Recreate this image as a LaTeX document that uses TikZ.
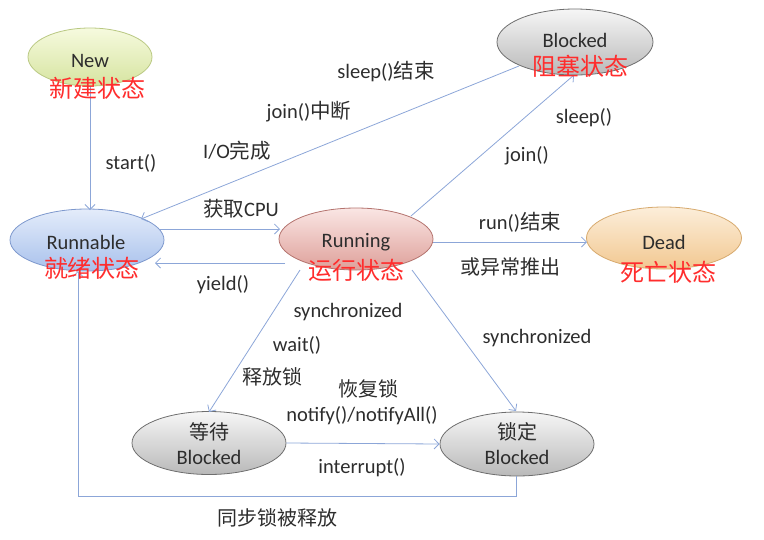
\documentclass[tikz,border=0pt]{standalone}
\usepackage{fontspec}
\setmainfont{Carlito}
\newfontfamily\cjk{Noto Sans CJK SC}
\usetikzlibrary{shapes.geometric,arrows.meta,calc}
\definecolor{lineblue}{RGB}{140,166,216}
\definecolor{txt}{RGB}{45,45,45}
\definecolor{redtxt}{RGB}{255,45,45}
\tikzset{
  st/.style={ellipse, inner sep=0pt, line width=0.8pt},
  stnew/.style={st, draw={rgb,255:red,185;green,200;blue,130}, top color={rgb,255:red,246;green,250;blue,222}, bottom color={rgb,255:red,214;green,228;blue,160}},
  stgrey/.style={st, draw={rgb,255:red,110;green,110;blue,110}, top color={rgb,255:red,246;green,246;blue,246}, bottom color={rgb,255:red,185;green,185;blue,185}},
  stblue/.style={st, draw={rgb,255:red,125;green,152;blue,205}, top color={rgb,255:red,228;green,236;blue,250}, bottom color={rgb,255:red,168;green,193;blue,236}},
  stred/.style={st, draw={rgb,255:red,180;green,115;blue,110}, top color={rgb,255:red,250;green,230;blue,228}, bottom color={rgb,255:red,222;green,160;blue,154}},
  storange/.style={st, draw={rgb,255:red,215;green,170;blue,110}, top color={rgb,255:red,252;green,238;blue,218}, bottom color={rgb,255:red,242;green,200;blue,145}},
  nm/.style={text=txt, font=\fontsize{20.5}{24}\selectfont, inner sep=0pt},
  nmc/.style={text=txt, font=\fontsize{20}{24}\selectfont\cjk, inner sep=0pt},
  rd/.style={text=redtxt, font=\fontsize{24}{27}\selectfont\cjk, inner sep=0pt},
  lb/.style={text=txt, font=\fontsize{20.5}{24}\selectfont, inner sep=0pt},
  lbc/.style={text=txt, font=\fontsize{20}{24}\selectfont\cjk, inner sep=0pt},
  conn/.style={draw=lineblue, line width=0.8pt, -{Straight Barb[length=5pt,width=10pt,line width=0.8pt]}},
}
\begin{document}
\begin{tikzpicture}[x=1pt,y=-1pt]
\useasboundingbox (0,0) rectangle (764,539);
% states
\node[stnew, minimum width=124pt, minimum height=58pt] (new) at (90,57) {};
\node[stgrey, minimum width=156pt, minimum height=66pt] (blk) at (575,42) {};
\node[stblue, minimum width=154pt, minimum height=62pt] (rb) at (87,240) {};
\node[stred, minimum width=154pt, minimum height=62pt] (rn) at (356,239) {};
\node[storange, minimum width=155pt, minimum height=62pt] (dd) at (664,238) {};
\node[stgrey, minimum width=154pt, minimum height=63pt] (wt) at (209,443) {};
\node[stgrey, minimum width=154pt, minimum height=64pt] (lk) at (517,444) {};
% connectors
\draw[conn] (new.south) -- (new.south |- {$(rb.center)+(0,-30)$});
\draw[conn] ($(blk.center)+(-56,24)$) -- ($(rb.center)+(54,-21)$);
\draw[conn] ($(rn.center)+(55,-23)$) -- ($(blk.center)+(-1,33)$);
\draw[conn] ($(rb.center)+(73,-11)$) -- ($(rn.center)+(-76,-10)$);
\draw[conn] ($(rn.center)+(-71,24)$) -- ($(rb.center)+(68,23)$);
\draw[conn] ($(rn.center)+(77,3)$) -- ($(dd.center)+(-77,4)$);
\draw[conn] ($(rn.center)+(-56,31)$) -- ($(wt.center)+(0,-31)$);
\draw[conn] ($(rn.center)+(56,31)$) -- ($(lk.center)+(-1,-33)$);
\draw[conn] (wt.east) -- (lk.west);
\coordinate (c1) at ($(lk.center)+(-1,52)$);
\coordinate (c2) at ($(rb.center)+(-9,256)$);
\draw[conn] ($(lk.center)+(-1,32)$) -- (c1) -- (c2) -- ($(rb.center)+(-9,31)$);
% state texts
\node[nm] (tnew) at (90,61) {New};
\node[rd] (rnew) at (97,88) {新建状态};
\node[nm] (tblk) at (575,40) {Blocked};
\node[rd] (rblk) at (580,66) {阻塞状态};
\node[nm] (trb) at (86,242) {Runnable};
\node[rd] (rrb) at (92,268) {就绪状态};
\node[nm] (trn) at (356,242) {Running};
\node[rd] (rrn) at (356,270) {运行状态};
\node[nm] (tdd) at (664,242) {Dead};
\node[rd] (rdd) at (668,272) {死亡状态};
\node[nmc] (twt1) at (209,432) {等待};
\node[nm] (twt2) at (209,457) {Blocked};
\node[nmc] (tlk1) at (517,432) {锁定};
\node[nm] (tlk2) at (517,457) {Blocked};
% labels
\node[lb] (l1) at (131,163) {start()};
\node[lb] (l2) at (386,72) {sleep(){\cjk 结束}};
\node[lb] (l3) at (309,112) {join(){\cjk 中断}};
\node[lb] (l4) at (237,151) {I/O{\cjk 完成}};
\node[lb] (l5) at (241,209) {{\cjk 获取}CPU};
\node[lb] (l6) at (223,285) {yield()};
\node[lb] (l7) at (584,118) {sleep()};
\node[lb] (l8) at (527,156) {join()};
\node[lb] (l9) at (520,222) {run(){\cjk 结束}};
\node[lbc] (l10) at (510,267) {或异常推出};
\node[lb] (l11) at (348,312) {synchronized};
\node[lb] (l12) at (297,345) {wait()};
\node[lbc] (l13) at (272,377) {释放锁};
\node[lbc] (l14) at (368,389) {恢复锁};
\node[lb] (l15) at (362,416) {notify()/notifyAll()};
\node[lb] (l16) at (362,468) {interrupt()};
\node[lb] (l17) at (537,338) {synchronized};
\node[lbc] (l18) at (277,518) {同步锁被释放};
\end{tikzpicture}
\end{document}
